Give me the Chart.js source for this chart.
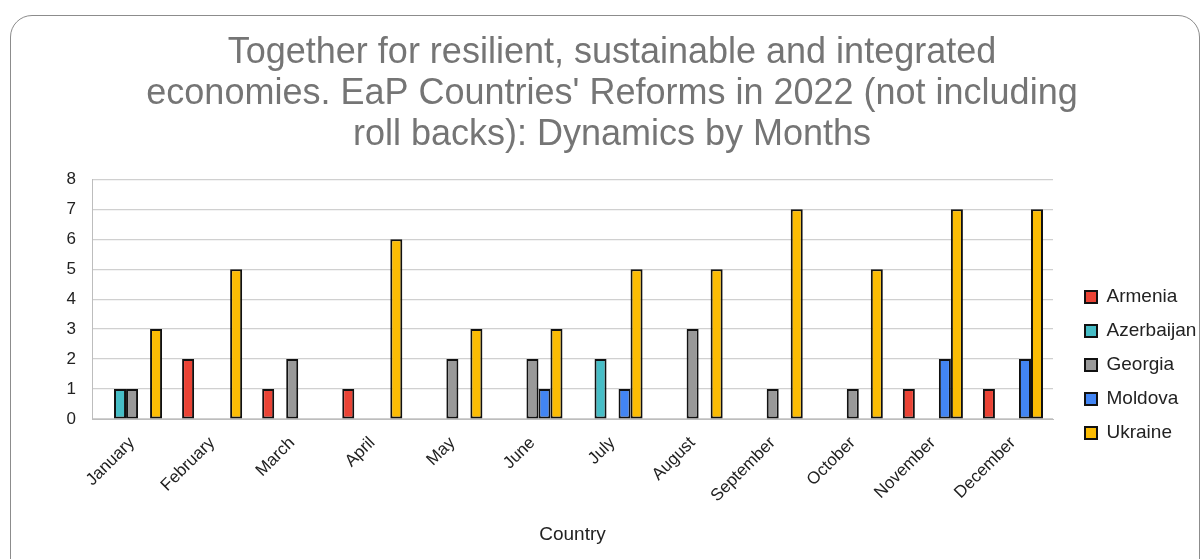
<!DOCTYPE html>
<html>
<head>
<meta charset="utf-8">
<script src="https://cdn.jsdelivr.net/npm/chart.js@4.4.1/dist/chart.umd.min.js"></script>
<style>
    body { margin: 0; background: #fff; }
    .frame {
        position: absolute; left: 10px; top: 15px; width: 1190px; height: 580px;
        border: 1.5px solid #8c8c8c; border-radius: 22px; box-sizing: border-box;
    }
    .box { position: absolute; left: 10px; top: 15px; width: 1190px; height: 544px; }
</style>
</head>
<body>
<div class="frame"></div>
<div class="box"><canvas id="graficoMeses"></canvas></div>
<script>
const months = ['January', 'February', 'March', 'April', 'May', 'June', 'July', 'August', 'September', 'October', 'November', 'December'];
// null = no reforms that month
const armenia = [null, 2, 1, 1, null, null, null, null, null, null, 1, 1];
const azerbaijan = [1, null, null, null, null, null, 2, null, null, null, null, null];
const georgia = [1, null, 2, null, 2, 2, null, 3, 1, 1, null, null];
const moldova = [null, null, null, null, null, 1, 1, null, null, null, 2, 2];
const ukraine = [3, 5, null, 6, 3, 3, 5, 5, 7, 5, 7, 7];
const yTicks = [0, 1, 2, 3, 4, 5, 6, 7, 8];

const fonte = 'Liberation Sans, Arial, sans-serif';

function serie(label, data, cor) {
    return {
        label: label,
        data: data,
        backgroundColor: cor,
        borderColor: '#111',
        borderWidth: 2,
        borderSkipped: false,
        categoryPercentage: 0.75,
        barPercentage: 1,
        yAxisID: 'y'
    };
}

// legenda mais baixa e titulo um pouco para a esquerda, como no original
const ajustes = {
    id: 'ajustes',
    afterLayout(chart) {
        chart.legend.top += 83;
        chart.legend.bottom += 83;
        chart.titleBlock.left -= 32;
    }
};

const grafico = document.getElementById('graficoMeses');

new Chart(grafico, {
    type: 'bar',
    data: {
        labels: months,
        datasets: [
            serie('Armenia', armenia, '#EA4335'),
            serie('Azerbaijan', azerbaijan, '#46BDC6'),
            serie('Georgia', georgia, '#999999'),
            serie('Moldova', moldova, '#4285F4'),
            serie('Ukraine', ukraine, '#FBBC04')
        ]
    },
    plugins: [ajustes],
    options: {
        responsive: true,
        maintainAspectRatio: false,
        animation: false,
        layout: {
            padding: { left: 46, right: 0, top: 0, bottom: 10 }
        },
        plugins: {
            title: {
                display: true,
                text: ['Together for resilient, sustainable and integrated',
                       "economies. EaP Countries' Reforms in 2022 (not including",
                       'roll backs): Dynamics by Months'],
                color: '#757575',
                font: { family: fonte, size: 36, weight: 'normal', lineHeight: 1.15 },
                padding: { top: 17, bottom: 23 }
            },
            legend: {
                display: true,
                position: 'right',
                maxWidth: 130,
                labels: {
                    boxWidth: 12,
                    boxHeight: 12,
                    padding: 15,
                    color: '#222',
                    font: { family: fonte, size: 19 }
                }
            },
            tooltip: { enabled: false }
        },
        scales: {
            x: {
                grid: { display: false },
                border: { display: true, color: '#bdbdbd' },
                afterFit: s => { s.height = 130; },
                ticks: {
                    color: '#222',
                    font: { family: fonte, size: 17 },
                    minRotation: 45,
                    maxRotation: 45,
                    padding: 6
                },
                title: {
                    display: true,
                    text: 'Country',
                    color: '#222',
                    font: { family: fonte, size: 19 },
                    padding: { top: 4, bottom: 3 }
                }
            },
            y: {
                min: 0,
                max: 8,
                afterBuildTicks: s => { s.ticks = yTicks.map(v => ({ value: v })); },
                afterFit: s => { s.width = 36; },
                grid: {
                    color: '#d0d0d0',
                    lineWidth: 1.2,
                    drawTicks: false
                },
                border: { display: true, color: '#bdbdbd' },
                ticks: {
                    color: '#222',
                    font: { family: fonte, size: 17 },
                    padding: 16
                }
            },
            espaco: {
                position: 'right',
                display: true,
                grid: { display: false },
                border: { display: false },
                ticks: { display: false },
                afterFit: s => { s.width = 17; }
            }
        }
    }
});
</script>
</body>
</html>
